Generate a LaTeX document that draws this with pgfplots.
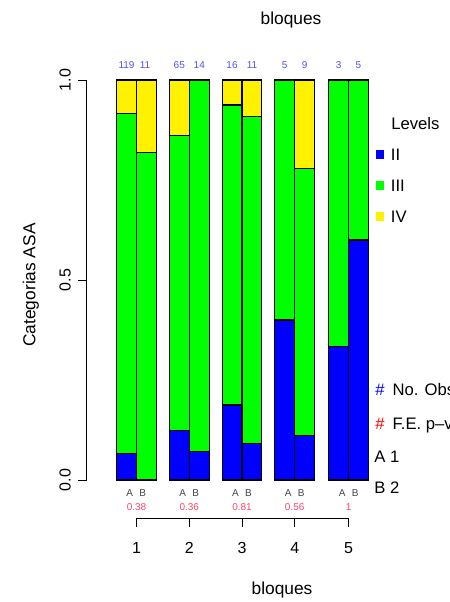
\documentclass[border=0pt]{standalone}
\usepackage{fontspec}
\setmainfont{Liberation Sans}
\usepackage{pgfplots}
\pgfplotsset{compat=1.18}
\usepackage{pgfplotstable}
\definecolor{cntblue}{RGB}{80,80,255}
\definecolor{pvred}{RGB}{255,70,100}
\definecolor{abgray}{RGB}{70,70,70}
\pgfplotstableread{
x blue green yellow
126.5 0.06723 0.84874 0.08403
146.5 0 0.81818 0.18182
179.3 0.12308 0.73846 0.13846
199.3 0.07143 0.92857 0
232.0 0.1875 0.75 0.0625
252.0 0.09091 0.81818 0.09091
284.7 0.4 0.6 0
304.7 0.11111 0.66667 0.22222
338.7 0.33333 0.66667 0
358.5 0.6 0.4 0
}\bardata
\newcommand{\mainf}{\fontsize{13}{15}\selectfont}
\newcommand{\tickf}{\fontsize{12}{14}\selectfont}
\newcommand{\legf}{\fontsize{12.5}{14}\selectfont}
\newcommand{\smallf}{\fontsize{7.5}{9}\selectfont}
\begin{document}
\begin{tikzpicture}
\path[use as bounding box] (0,0) rectangle (336.75pt,451.5pt);
\clip (0,0) rectangle (336.75pt,451.5pt);
\begin{axis}[at={(0,0)}, anchor=south west, x=0.75pt, y=300pt,
  xmin=0, xmax=449, ymin=-0.305, ymax=1.2, hide axis, clip=false,
  ybar stacked, bar width=19.8, bar shift=0pt]
\addplot[fill=blue, draw=black, line width=0.8pt] table[x=x,y=blue]{\bardata};
\addplot[fill=green, draw=black, line width=0.8pt] table[x=x,y=green]{\bardata};
\addplot[fill=yellow, draw=black, line width=0.8pt] table[x=x,y=yellow]{\bardata};
% y axis
\draw[line width=0.6pt] (axis cs:78,0) -- (axis cs:86,0) -- (axis cs:86,1) -- (axis cs:78,1);
\draw[line width=0.6pt] (axis cs:78,0.5) -- (axis cs:86,0.5);
\node[rotate=90, font=\tickf] at (axis cs:65,0) {0.0};
\node[rotate=90, font=\tickf] at (axis cs:65,0.5) {0.5};
\node[rotate=90, font=\tickf] at (axis cs:65,1) {1.0};
\node[rotate=90, font=\mainf] at (axis cs:31,0.4875) {Categorias ASA};
% titles
\node[font=\mainf] at (axis cs:291,1.15) {bloques};
\node[font=\mainf] at (axis cs:282,-0.275) {bloques};
% counts
\node[font=\smallf, text=cntblue] at (axis cs:126.5,1.0375) {119};
\node[font=\smallf, text=cntblue] at (axis cs:145,1.0375) {11};
\node[font=\smallf, text=cntblue] at (axis cs:179.3,1.0375) {65};
\node[font=\smallf, text=cntblue] at (axis cs:199.3,1.0375) {14};
\node[font=\smallf, text=cntblue] at (axis cs:232,1.0375) {16};
\node[font=\smallf, text=cntblue] at (axis cs:252,1.0375) {11};
\node[font=\smallf, text=cntblue] at (axis cs:284.7,1.0375) {5};
\node[font=\smallf, text=cntblue] at (axis cs:304.7,1.0375) {9};
\node[font=\smallf, text=cntblue] at (axis cs:338.7,1.0375) {3};
\node[font=\smallf, text=cntblue] at (axis cs:358.5,1.0375) {5};
% A B labels
\node[font=\smallf, text=abgray] at (axis cs:129.8,-0.0325) {A};
\node[font=\smallf, text=abgray] at (axis cs:142.8,-0.0325) {B};
\node[font=\smallf, text=abgray] at (axis cs:182.8,-0.0325) {A};
\node[font=\smallf, text=abgray] at (axis cs:195.8,-0.0325) {B};
\node[font=\smallf, text=abgray] at (axis cs:235.5,-0.0325) {A};
\node[font=\smallf, text=abgray] at (axis cs:248.5,-0.0325) {B};
\node[font=\smallf, text=abgray] at (axis cs:288.2,-0.0325) {A};
\node[font=\smallf, text=abgray] at (axis cs:301.2,-0.0325) {B};
\node[font=\smallf, text=abgray] at (axis cs:342.1,-0.0325) {A};
\node[font=\smallf, text=abgray] at (axis cs:355.1,-0.0325) {B};
% p-values
\node[font=\smallf, text=pvred] at (axis cs:136.5,-0.0675) {0.38};
\node[font=\smallf, text=pvred] at (axis cs:189.3,-0.0675) {0.36};
\node[font=\smallf, text=pvred] at (axis cs:242,-0.0675) {0.81};
\node[font=\smallf, text=pvred] at (axis cs:294.7,-0.0675) {0.56};
\node[font=\smallf, text=pvred] at (axis cs:348.6,-0.0675) {1};
% bottom bracket axis
\draw[line width=0.6pt] (axis cs:136.5,-0.1175) -- (axis cs:136.5,-0.095) -- (axis cs:348.6,-0.095) -- (axis cs:348.6,-0.1175);
\draw[line width=0.6pt] (axis cs:189.3,-0.095) -- (axis cs:189.3,-0.1175);
\draw[line width=0.6pt] (axis cs:242,-0.095) -- (axis cs:242,-0.1175);
\draw[line width=0.6pt] (axis cs:294.7,-0.095) -- (axis cs:294.7,-0.1175);
\node[font=\tickf] at (axis cs:136.5,-0.17) {1};
\node[font=\tickf] at (axis cs:189.3,-0.17) {2};
\node[font=\tickf] at (axis cs:242,-0.17) {3};
\node[font=\tickf] at (axis cs:294.7,-0.17) {4};
\node[font=\tickf] at (axis cs:348.6,-0.17) {5};
% legend
\node[font=\legf, anchor=west, inner sep=0pt] at (axis cs:391,0.89) {Levels};
\node[font=\legf, anchor=west, inner sep=0pt] at (axis cs:375.5,0.8125) {\textcolor{blue}{\rule[1.5pt]{6.4pt}{6.4pt}}\hspace{5pt}II};
\node[font=\legf, anchor=west, inner sep=0pt] at (axis cs:375.5,0.735) {\textcolor{green}{\rule[1.5pt]{6.4pt}{6.4pt}}\hspace{5pt}III};
\node[font=\legf, anchor=west, inner sep=0pt] at (axis cs:375.5,0.6575) {\textcolor{yellow}{\rule[1.5pt]{6.4pt}{6.4pt}}\hspace{5pt}IV};
\node[font=\legf, anchor=west, inner sep=0pt] at (axis cs:375,0.225) {\textcolor{blue}{\#}\hspace{6pt}No. Obs};
\node[font=\legf, anchor=west, inner sep=0pt] at (axis cs:375,0.1375) {\textcolor{red}{\#}\hspace{6pt}F.E. p--value};
\node[font=\legf, anchor=west, inner sep=0pt] at (axis cs:374,0.0575) {A 1};
\node[font=\legf, anchor=west, inner sep=0pt] at (axis cs:374,-0.02) {B 2};
\end{axis}
\end{tikzpicture}
\end{document}
